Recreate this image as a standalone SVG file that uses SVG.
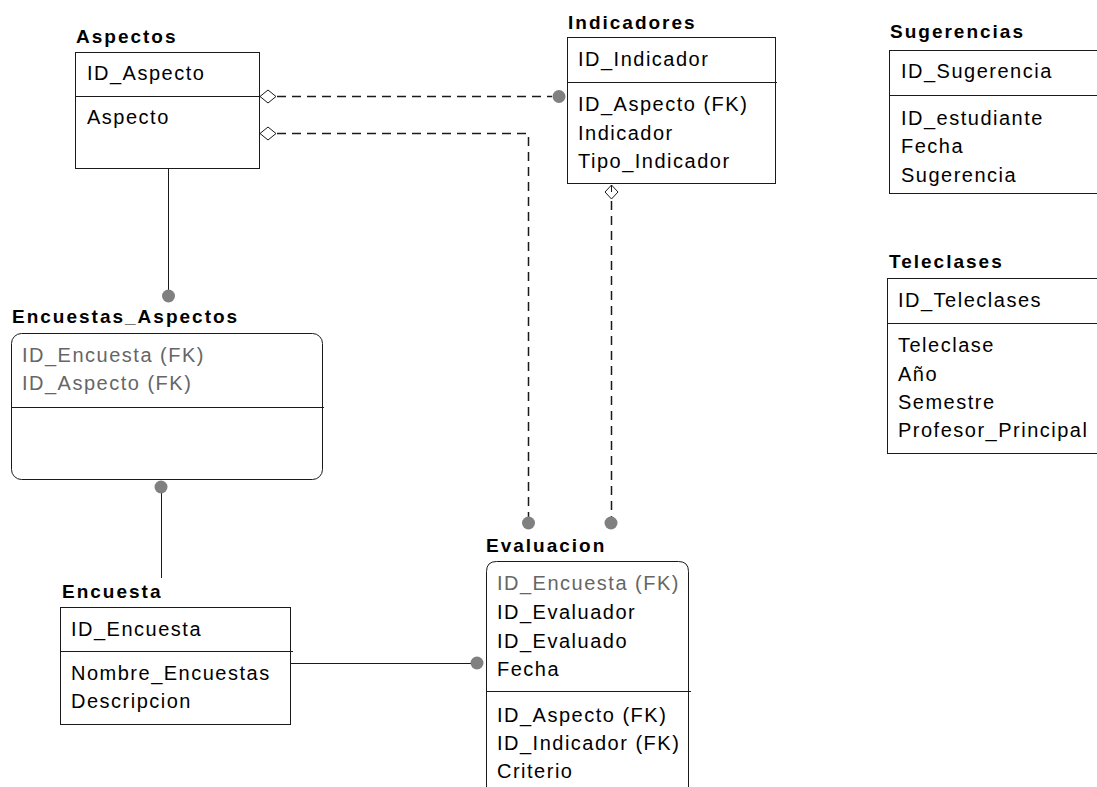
<svg xmlns="http://www.w3.org/2000/svg" width="1097" height="787" viewBox="0 0 1097 787">
  <defs>
    <style>
      .box { fill: #ffffff; stroke: #1a1a1a; stroke-width: 1; }
      .sep { stroke: #1a1a1a; stroke-width: 1; fill: none; }
      .title { font-family: "Liberation Sans", Arial, sans-serif; font-weight: bold; font-size: 19px; letter-spacing: 2px; fill: #000; }
      .fld { font-family: "Liberation Sans", Arial, sans-serif; font-size: 20px; letter-spacing: 1.5px; fill: #000; }
      .fk { fill: #666666; }
      .rel { stroke: #1a1a1a; stroke-width: 1; fill: none; }
      .dash { stroke: #1a1a1a; stroke-width: 1.5; fill: none; stroke-dasharray: 9 6; }
      .dot { fill: #808080; }
      .dia { fill: #ffffff; stroke: #1a1a1a; stroke-width: 1; }
    </style>
  </defs>
  <rect width="1097" height="787" fill="#ffffff"/>

  <!-- relationships -->
  <g id="connectors">
    <!-- Aspectos to Encuestas_Aspectos -->
    <line class="rel" x1="168.5" y1="168" x2="168.5" y2="296"/>
    <circle class="dot" cx="168.5" cy="296" r="6.5"/>
    <!-- Encuestas_Aspectos to Encuesta -->
    <line class="rel" x1="161.5" y1="487" x2="161.5" y2="578"/>
    <circle class="dot" cx="161" cy="487" r="6.5"/>
    <!-- Encuesta to Evaluacion -->
    <line class="rel" x1="291" y1="663.5" x2="477" y2="663.5"/>
    <circle class="dot" cx="477" cy="663" r="6.5"/>
    <!-- Aspectos to Indicadores -->
    <path class="dash" d="M277,96.5 H552"/>
    <path class="dia" d="M260,96.5 L268,90 L276,96.5 L268,103 Z"/>
    <circle class="dot" cx="559" cy="96.5" r="6.5"/>
    <!-- Aspectos to Evaluacion -->
    <path class="dash" d="M277,133.5 H528.5 V517"/>
    <path class="dia" d="M260,133.5 L268,127 L276,133.5 L268,140 Z"/>
    <circle class="dot" cx="528.5" cy="523" r="6.5"/>
    <!-- Indicadores to Evaluacion -->
    <path class="dash" d="M611.5,201 V517"/>
    <path class="dia" d="M611.5,185 L618,192 L611.5,199 L605,192 Z"/>
    <line class="rel" x1="611.5" y1="185" x2="611.5" y2="192"/>
    <circle class="dot" cx="611" cy="523" r="6.5"/>
  </g>

  <g id="aspectos">
    <text class="title" x="76" y="43">Aspectos</text>
    <rect class="box" x="75.5" y="52.5" width="184" height="116"/>
    <line class="sep" x1="75" y1="96.5" x2="260" y2="96.5"/>
    <text class="fld" x="87" y="80">ID_Aspecto</text>
    <text class="fld" x="87" y="124">Aspecto</text>
  </g>

  <g id="indicadores">
    <text class="title" x="568" y="29">Indicadores</text>
    <rect class="box" x="567.5" y="37.5" width="208" height="146"/>
    <line class="sep" x1="567" y1="82.5" x2="777" y2="82.5"/>
    <text class="fld" x="578" y="66">ID_Indicador</text>
    <text class="fld" x="578" y="111">ID_Aspecto (FK)</text>
    <text class="fld" x="578" y="140">Indicador</text>
    <text class="fld" x="578" y="168">Tipo_Indicador</text>
  </g>

  <g id="sugerencias">
    <text class="title" x="890" y="38">Sugerencias</text>
    <rect class="box" x="889.5" y="50.5" width="230" height="143"/>
    <line class="sep" x1="889" y1="95.5" x2="1097" y2="95.5"/>
    <text class="fld" x="901" y="78">ID_Sugerencia</text>
    <text class="fld" x="901" y="125">ID_estudiante</text>
    <text class="fld" x="901" y="153">Fecha</text>
    <text class="fld" x="901" y="182">Sugerencia</text>
  </g>

  <g id="teleclases">
    <text class="title" x="889" y="268">Teleclases</text>
    <rect class="box" x="887.5" y="278.5" width="230" height="175"/>
    <line class="sep" x1="887" y1="323.5" x2="1097" y2="323.5"/>
    <text class="fld" x="898" y="307">ID_Teleclases</text>
    <text class="fld" x="898" y="352">Teleclase</text>
    <text class="fld" x="898" y="381">Año</text>
    <text class="fld" x="898" y="409">Semestre</text>
    <text class="fld" x="898" y="437">Profesor_Principal</text>
  </g>

  <g id="encuestas_aspectos">
    <text class="title" x="12" y="323">Encuestas_Aspectos</text>
    <rect class="box" x="11.5" y="333.5" width="311" height="146" rx="10" ry="10"/>
    <line class="sep" x1="11" y1="407.5" x2="324" y2="407.5"/>
    <text class="fld fk" x="22" y="362">ID_Encuesta (FK)</text>
    <text class="fld fk" x="22" y="390">ID_Aspecto (FK)</text>
  </g>

  <g id="encuesta">
    <text class="title" x="62" y="598">Encuesta</text>
    <rect class="box" x="60.5" y="607.5" width="230" height="117"/>
    <line class="sep" x1="60" y1="651.5" x2="293" y2="651.5"/>
    <text class="fld" x="71" y="636">ID_Encuesta</text>
    <text class="fld" x="71" y="680">Nombre_Encuestas</text>
    <text class="fld" x="71" y="708">Descripcion</text>
  </g>

  <g id="evaluacion">
    <text class="title" x="486" y="552">Evaluacion</text>
    <path class="box" d="M486.5,800 V571.5 Q486.5,561.5 496.5,561.5 H678.5 Q688.5,561.5 688.5,571.5 V800"/>
    <line class="sep" x1="486" y1="691.5" x2="691" y2="691.5"/>
    <text class="fld fk" x="497" y="590">ID_Encuesta (FK)</text>
    <text class="fld" x="497" y="619">ID_Evaluador</text>
    <text class="fld" x="497" y="648">ID_Evaluado</text>
    <text class="fld" x="497" y="676">Fecha</text>
    <text class="fld" x="497" y="722">ID_Aspecto (FK)</text>
    <text class="fld" x="497" y="750">ID_Indicador (FK)</text>
    <text class="fld" x="497" y="778">Criterio</text>
  </g>
</svg>
